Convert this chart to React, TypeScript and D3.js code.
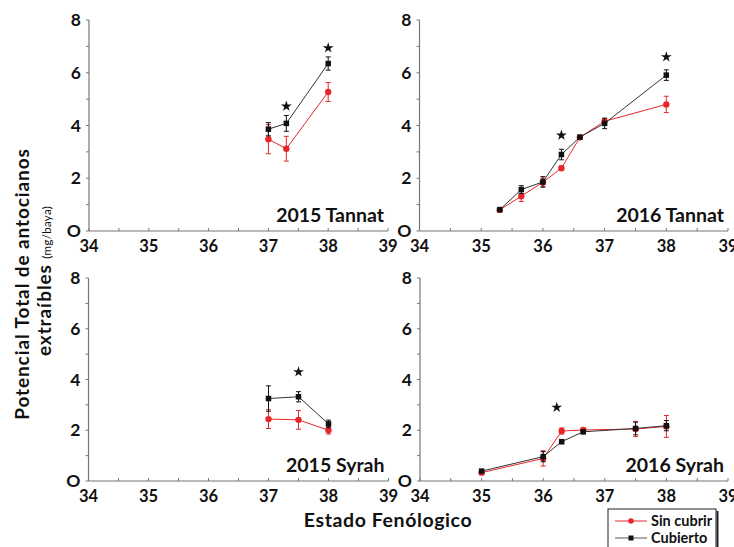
import React from "react";
import * as d3 from "d3";

// ---------- data ----------
const xTicks = [34, 35, 36, 37, 38, 39];
const yTicks = [0, 2, 4, 6, 8];

// 2015 Tannat
const t15X = [37, 37.3, 38];
const t15Red = [3.48, 3.12, 5.27];
const t15RedErr = [0.55, 0.47, 0.36];
const t15Black = [3.86, 4.08, 6.35];
const t15BlackErr = [0.25, 0.3, 0.25];
const t15StarX = [37.3, 38];
const t15StarY = [4.73, 6.94];

// 2016 Tannat
const t16X = [35.3, 35.65, 36, 36.3, 36.6, 37, 38];
const t16Red = [0.8, 1.32, 1.85, 2.38, 3.55, 4.16, 4.8];
const t16RedErr = [0.05, 0.2, 0.15, 0.08, 0.05, 0.1, 0.31];
const t16Black = [0.81, 1.57, 1.86, 2.9, 3.56, 4.08, 5.91];
const t16BlackErr = [0.05, 0.15, 0.2, 0.2, 0.05, 0.2, 0.2];
const t16StarX = [36.3, 38];
const t16StarY = [3.63, 6.6];

// 2015 Syrah
const s15X = [37, 37.5, 38];
const s15Red = [2.44, 2.41, 2.0];
const s15RedErr = [0.37, 0.37, 0.15];
const s15Black = [3.25, 3.32, 2.25];
const s15BlackErr = [0.5, 0.2, 0.15];
const s15StarX = [37.5];
const s15StarY = [4.3];

// 2016 Syrah
const s16X = [35, 36, 36.3, 36.65, 37.5, 38];
const s16Red = [0.33, 0.89, 1.97, 2.01, 2.05, 2.15];
const s16RedErr = [0.08, 0.3, 0.12, 0.08, 0.3, 0.43];
const s16Black = [0.39, 0.96, 1.55, 1.94, 2.07, 2.18];
const s16BlackErr = [0.05, 0.2, 0.08, 0.08, 0.25, 0.2];
const s16StarX = [36.22];
const s16StarY = [2.9];

const panels = [
  { label: "2015 Tannat", x: t15X, red: t15Red, redErr: t15RedErr, black: t15Black, blackErr: t15BlackErr, starX: t15StarX, starY: t15StarY, left: 89, right: 388, top: 20, bottom: 231 },
  { label: "2016 Tannat", x: t16X, red: t16Red, redErr: t16RedErr, black: t16Black, blackErr: t16BlackErr, starX: t16StarX, starY: t16StarY, left: 419.5, right: 728, top: 20, bottom: 231 },
  { label: "2015 Syrah", x: s15X, red: s15Red, redErr: s15RedErr, black: s15Black, blackErr: s15BlackErr, starX: s15StarX, starY: s15StarY, left: 88.5, right: 388.5, top: 278, bottom: 481 },
  { label: "2016 Syrah", x: s16X, red: s16Red, redErr: s16RedErr, black: s16Black, blackErr: s16BlackErr, starX: s16StarX, starY: s16StarY, left: 420, right: 728, top: 278, bottom: 481 },
];

const RED = "#e8262a";
const BLACK = "#111";
const AXIS = "#777";
const FONT = "Lato, 'Open Sans', sans-serif";

function Panel({ p }: { p: (typeof panels)[number] }) {
  const xs = d3.scaleLinear().domain([34, 39]).range([p.left, p.right]);
  const ys = d3.scaleLinear().domain([0, 8]).range([p.bottom, p.top]);
  const minorX = d3.range(34, 39.01, 0.5);
  const minorY = d3.range(0, 8.01, 1);
  const line = d3
    .line<[number, number]>()
    .x((d) => xs(d[0]))
    .y((d) => ys(d[1]));
  const redPts = p.x.map((x, i) => [x, p.red[i]] as [number, number]);
  const blackPts = p.x.map((x, i) => [x, p.black[i]] as [number, number]);
  const star = d3.symbol().type(d3.symbolStar).size(36)();
  const sq = 5.5;
  return (
    <g>
      {/* axes */}
      <line x1={p.left} x2={p.left} y1={p.top} y2={p.bottom} stroke={AXIS} strokeWidth={1.2} />
      <line x1={p.left} x2={p.right} y1={p.bottom} y2={p.bottom} stroke={AXIS} strokeWidth={1.2} />
      {minorX.map((v) => (
        <line key={"mx" + v} x1={xs(v)} x2={xs(v)} y1={p.bottom} y2={p.bottom - 3} stroke={AXIS} strokeWidth={1} />
      ))}
      {minorY.map((v) => (
        <line key={"my" + v} x1={p.left} x2={p.left - 3} y1={ys(v)} y2={ys(v)} stroke={AXIS} strokeWidth={1} />
      ))}
      {xTicks.map((v) => (
        <text key={"xt" + v} x={xs(v)} y={p.bottom + 21} textAnchor="middle" fontSize={16.5} fontWeight={700} fontFamily={FONT} fill="#111">
          {v}
        </text>
      ))}
      {yTicks.map((v) => (
        <text key={"yt" + v} x={p.left - 8} y={ys(v) + 6} textAnchor="end" fontSize={17.5} fontWeight={700} fontFamily={FONT} fill="#111">
          {v === 0 ? "O" : v}
        </text>
      ))}
      {/* red series */}
      <path d={line(redPts) || ""} fill="none" stroke={RED} strokeWidth={1} />
      {p.x.map((x, i) => (
        <g key={"re" + i} stroke={RED} strokeWidth={1}>
          <line x1={xs(x)} x2={xs(x)} y1={ys(p.red[i] - p.redErr[i])} y2={ys(p.red[i] + p.redErr[i])} />
          <line x1={xs(x) - 2.5} x2={xs(x) + 2.5} y1={ys(p.red[i] - p.redErr[i])} y2={ys(p.red[i] - p.redErr[i])} />
          <line x1={xs(x) - 2.5} x2={xs(x) + 2.5} y1={ys(p.red[i] + p.redErr[i])} y2={ys(p.red[i] + p.redErr[i])} />
        </g>
      ))}
      {redPts.map((d, i) => (
        <circle key={"rc" + i} cx={xs(d[0])} cy={ys(d[1])} r={3.2} fill={RED} />
      ))}
      {/* black series */}
      <path d={line(blackPts) || ""} fill="none" stroke="#333" strokeWidth={1} />
      {p.x.map((x, i) => (
        <g key={"be" + i} stroke={BLACK} strokeWidth={1}>
          <line x1={xs(x)} x2={xs(x)} y1={ys(p.black[i] - p.blackErr[i])} y2={ys(p.black[i] + p.blackErr[i])} />
          <line x1={xs(x) - 2.5} x2={xs(x) + 2.5} y1={ys(p.black[i] - p.blackErr[i])} y2={ys(p.black[i] - p.blackErr[i])} />
          <line x1={xs(x) - 2.5} x2={xs(x) + 2.5} y1={ys(p.black[i] + p.blackErr[i])} y2={ys(p.black[i] + p.blackErr[i])} />
        </g>
      ))}
      {blackPts.map((d, i) => (
        <rect key={"bs" + i} x={xs(d[0]) - sq / 2} y={ys(d[1]) - sq / 2} width={sq} height={sq} fill={BLACK} />
      ))}
      {/* stars */}
      {p.starX.map((sx, i) => (
        <path key={"st" + i} d={star || ""} transform={`translate(${xs(sx)},${ys(p.starY[i])})`} fill="#111" />
      ))}
      <text x={p.right - 4} y={p.bottom - 9} textAnchor="end" fontSize={19.5} fontWeight={700} fontFamily={FONT} fill="#111">
        {p.label}
      </text>
    </g>
  );
}

export default function App() {
  return (
    <svg width={734} height={547} style={{ position: "absolute", left: 0, top: 0, background: "#fff" }}>
      <rect width={734} height={547} fill="#fff" />
      {panels.map((p, i) => (
        <Panel key={i} p={p} />
      ))}
      <text x={388} y={527} textAnchor="middle" fontSize={19.5} fontWeight={700} fontFamily={FONT} letterSpacing={0.6} fill="#111">
        Estado Fenólogico
      </text>
      <text transform="translate(29,284) rotate(-90)" textAnchor="middle" fontSize={19} fontWeight={700} fontFamily={FONT} letterSpacing={0.9} fill="#111">
        Potencial Total de antocianos
      </text>
      <text transform="translate(51,281) rotate(-90)" textAnchor="middle" fontSize={19} fontWeight={700} fontFamily={FONT} letterSpacing={0.9} fill="#111">
        extraíbles <tspan fontSize={11.5} fontWeight={400} letterSpacing={0.3}>(mg/baya)</tspan>
      </text>
      {/* legend */}
      <g>
        <rect x={608} y={509} width={108} height={50} fill="#fff" stroke="#222" strokeWidth={1} />
        <line x1={717.5} x2={717.5} y1={511} y2={547} stroke="#222" strokeWidth={2} />
        <line x1={615} x2={647} y1={521} y2={521} stroke={RED} strokeWidth={1} />
        <circle cx={631} cy={521} r={2.8} fill={RED} />
        <text x={651} y={526} fontSize={14.5} fontWeight={700} fontFamily={FONT} fill="#111">Sin cubrir</text>
        <line x1={615} x2={647} y1={538} y2={538} stroke="#555" strokeWidth={1} />
        <rect x={628.5} y={535.5} width={5} height={5} fill={BLACK} />
        <text x={651} y={543} fontSize={14.5} fontWeight={700} fontFamily={FONT} fill="#111">Cubierto</text>
      </g>
    </svg>
  );
}
